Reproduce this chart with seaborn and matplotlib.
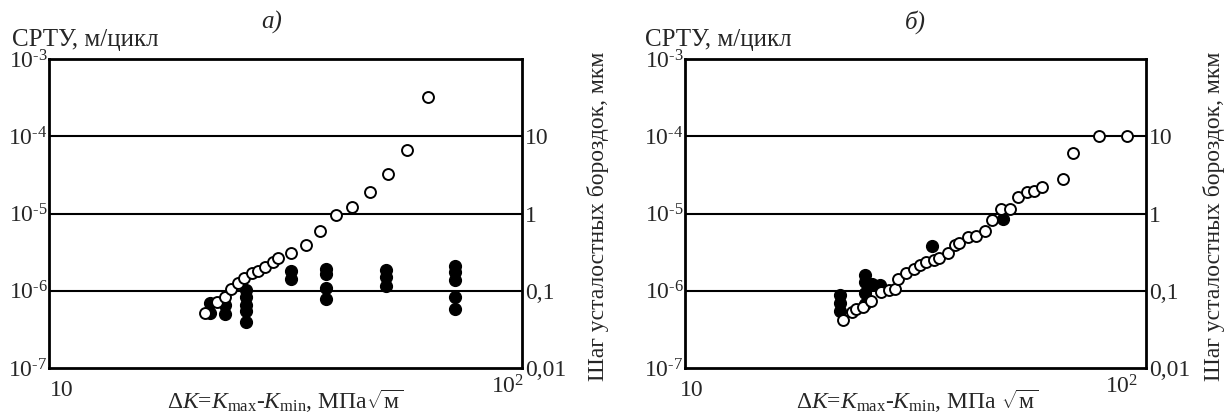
import numpy as np
import pandas as pd
import matplotlib
matplotlib.use("Agg")
import matplotlib.pyplot as plt
import seaborn as sns

# ---------------- data ----------------
a_open_dk = [21.4, 22.7, 23.6, 24.3, 25.1, 25.9, 26.8, 27.7, 28.6, 29.7, 30.5, 32.5,
             35.0, 37.4, 40.4, 43.8, 47.6, 52.2, 57.2, 63.2]
a_open_rate = [5.1e-7, 7.1e-7, 8.2e-7, 1.04e-6, 1.27e-6, 1.45e-6, 1.68e-6, 1.80e-6,
               2.05e-6, 2.38e-6, 2.68e-6, 3.05e-6, 3.86e-6, 6.0e-6, 9.7e-6, 1.22e-5,
               1.90e-5, 3.21e-5, 6.7e-5, 3.2e-4]
a_fill_dk = [21.9, 21.9, 23.6, 23.6, 26.05, 26.05, 26.05, 26.05, 26.05, 32.5, 32.5,
             38.5, 38.5, 38.5, 38.5, 51.5, 51.5, 51.5, 72.2, 72.2, 72.2, 72.2, 72.2]
a_fill_rate = [6.9e-7, 5.1e-7, 6.55e-7, 4.95e-7, 1.02e-6, 8.4e-7, 6.55e-7, 5.47e-7,
               3.94e-7, 1.80e-6, 1.42e-6, 1.94e-6, 1.65e-6, 1.07e-6, 7.8e-7, 1.86e-6,
               1.51e-6, 1.15e-6, 2.09e-6, 1.77e-6, 1.38e-6, 8.2e-7, 5.75e-7]

b_open_dk = [22.0, 23.0, 23.5, 24.3, 25.3, 26.6, 27.75, 28.5, 29.0, 30.2, 31.4, 32.4,
             33.3, 34.6, 35.65, 37.2, 38.5, 39.3, 41.2, 42.85, 44.75, 46.45, 48.5,
             50.7, 52.8, 55.3, 57.2, 59.5, 66.0, 69.4, 79.0, 91.0]
b_open_rate = [4.2e-7, 5.3e-7, 5.8e-7, 6.2e-7, 7.4e-7, 9.5e-7, 1.02e-6, 1.05e-6,
               1.42e-6, 1.71e-6, 1.89e-6, 2.17e-6, 2.38e-6, 2.47e-6, 2.69e-6, 3.07e-6,
               3.89e-6, 4.09e-6, 4.94e-6, 5.09e-6, 6.0e-6, 8.2e-6, 1.14e-5, 1.16e-5,
               1.65e-5, 1.90e-5, 1.97e-5, 2.22e-5, 2.76e-5, 6.07e-5, 1.0e-4, 1.0e-4]
b_fill_dk = [21.7, 21.7, 21.7, 24.6, 24.6, 24.6, 24.6, 25.5, 26.55, 34.3, 49.0]
b_fill_rate = [8.8e-7, 6.9e-7, 5.5e-7, 1.60e-6, 1.29e-6, 9.3e-7, 6.7e-7, 1.22e-6,
               1.19e-6, 3.84e-6, 8.4e-6]

y_ticks = [1e-3, 1e-4, 1e-5, 1e-6, 1e-7]
y_tick_labels = [r"$10^{\text{-3}}$", r"$10^{\text{-4}}$", r"$10^{\text{-5}}$",
                 r"$10^{\text{-6}}$", r"$10^{\text{-7}}$"]
step_ticks = [10, 1, 0.1, 0.01]
step_tick_labels = ["10", "1", "0,1", "0,01"]
panel_titles = ["а)", "б)"]
y_title = "СРТУ, м/цикл"
step_title = "Шаг усталостных бороздок, мкм"
x_titles = [r"$\Delta \mathit{K}$=$\mathit{K}_{\mathrm{max}}$-$\mathit{K}_{\mathrm{min}}$, МПа$\sqrt{\mathrm{м}}$",
            r"$\Delta \mathit{K}$=$\mathit{K}_{\mathrm{max}}$-$\mathit{K}_{\mathrm{min}}$, МПа $\sqrt{\mathrm{м}}$"]

# ---------------- style ----------------
sns.set_style("white")
plt.rcParams["font.family"] = ["Liberation Serif", "DejaVu Serif"]
plt.rcParams["mathtext.fontset"] = "custom"
plt.rcParams["mathtext.rm"] = "Liberation Serif"
plt.rcParams["mathtext.it"] = "Liberation Serif:italic"
plt.rcParams["mathtext.bf"] = "Liberation Serif:bold"

W, H = 1224, 416
fig = plt.figure(figsize=(W / 100, H / 100), dpi=100)
axes = [fig.add_axes([49 / W, 48 / H, 473 / W, 309 / H]),
        fig.add_axes([685 / W, 48 / H, 461 / W, 309 / H])]

panels = [(a_open_dk, a_open_rate, a_fill_dk, a_fill_rate),
          (b_open_dk, b_open_rate, b_fill_dk, b_fill_rate)]

FS = 17
for i, (ax, (odk, orate, fdk, frate)) in enumerate(zip(axes, panels)):
    ax.set_xscale("log")
    ax.set_yscale("log")
    ax.set_xlim(10, 100)
    ax.set_ylim(1e-7, 1e-3)
    ax.set_axisbelow(True)
    for y in [1e-4, 1e-5, 1e-6]:
        ax.axhline(y, color="black", lw=1.5, zorder=1)

    dfo = pd.DataFrame({"dk": odk, "rate": orate})
    dff = pd.DataFrame({"dk": fdk, "rate": frate})
    sns.scatterplot(data=dff, x="dk", y="rate", ax=ax, marker="o", s=72,
                    color="black", edgecolor="black", linewidth=1.0, zorder=3)
    sns.scatterplot(data=dfo, x="dk", y="rate", ax=ax, marker="o", s=62,
                    facecolor="white", edgecolor="black", linewidth=1.4, zorder=4)

    ax.set_yticks(y_ticks)
    ax.set_yticklabels(y_tick_labels, fontsize=FS)
    ax.minorticks_off()
    ax.set_xticks([])
    ax.tick_params(axis="y", length=0, pad=1)
    ax.set_xlabel("")
    ax.set_ylabel("")
    for sp in ax.spines.values():
        sp.set_visible(True)
        sp.set_color("black")
        sp.set_linewidth(2.0)

    # x tick labels (placed slightly inside as in the original)
    lx = [0.027, 0.015][i]
    rx = [0.97, 0.948][i]
    ax.text(lx, -0.074, "10", transform=ax.transAxes, ha="center", va="center", fontsize=FS)
    ax.text(rx, -0.062, r"$10^{2}$", transform=ax.transAxes, ha="center", va="center", fontsize=FS)
    xc = [285, 917][i]
    fig.text(xc / W, 7 / H, x_titles[i], ha="center", va="baseline", fontsize=FS)

    # right axis: striation spacing
    ax2 = ax.twinx()
    ax2.set_yscale("log")
    ax2.set_ylim(1e-2, 1e2)
    ax2.set_yticks(step_ticks)
    ax2.set_yticklabels(step_tick_labels, fontsize=FS)
    ax2.minorticks_off()
    ax2.tick_params(axis="y", length=0, pad=2)
    ax2.set_ylabel(step_title, fontsize=17)
    lab_left = [587, 1203][i]
    x0 = [49, 685][i]
    wd = [473, 461][i]
    ax2.yaxis.set_label_coords((lab_left - x0) / wd, 0.49)
    for sp in ax2.spines.values():
        sp.set_visible(False)

    # titles
    ax.text([0.47, 0.50][i], 1.118, panel_titles[i], transform=ax.transAxes,
            ha="center", va="center", fontsize=18, fontstyle="italic")
    ax.text([-0.078, -0.086][i], 1.06, y_title, transform=ax.transAxes,
            ha="left", va="center", fontsize=18)

fig.savefig("out.png", dpi=100)
